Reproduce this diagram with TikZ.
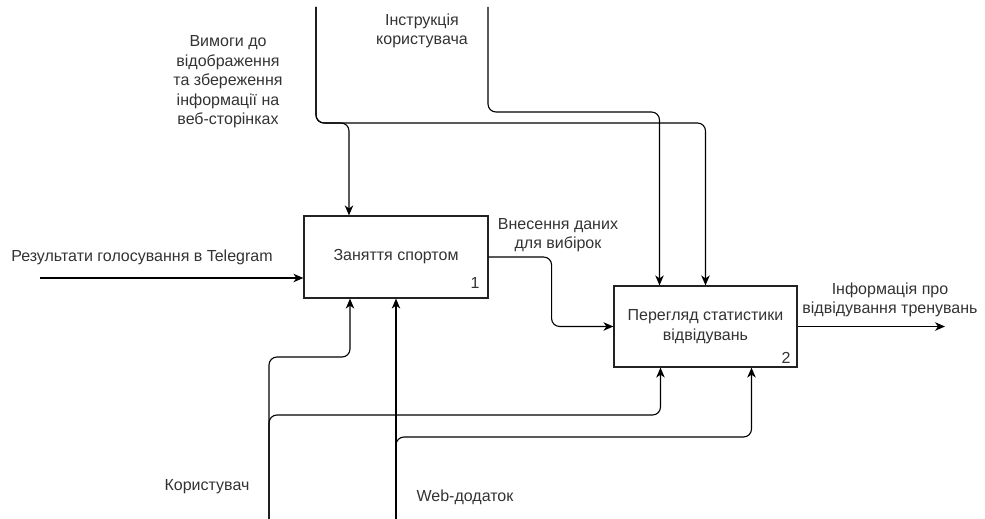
\documentclass[tikz,border=0pt]{standalone}
\usepackage{fontspec}
\setmainfont{Liberation Sans}
\usetikzlibrary{arrows.meta,calc}
\definecolor{txt}{HTML}{333333}
\definecolor{edge}{HTML}{222222}
\tikzset{
  func/.style={draw=edge, line width=1.2pt, fill=white, inner sep=0pt,
    text=txt, font=\fontsize{16}{20}\selectfont, align=center},
  lbl/.style={text=txt, font=\fontsize{16}{19.5}\selectfont, align=center, inner sep=0pt},
  num/.style={text=txt, font=\fontsize{16}{18}\selectfont, inner sep=0pt},
  flow/.style={draw=black, line width=1.1pt, rounded corners=8pt,
    -{Stealth[length=10pt,width=8.5pt,inset=3pt]}},
}
\begin{document}
\begin{tikzpicture}[x=1pt,y=-1pt]
\useasboundingbox (0,0) rectangle (985,519);

% activity boxes
\node[func, minimum width=184pt, minimum height=82pt] (b1) at (396,257) {Заняття спортом};
\node[num, anchor=south east] (n1) at ([xshift=-9pt,yshift=10pt]b1.south east) {1};
\node[func, minimum width=183pt, minimum height=81pt] (b2) at (705.5,326.5) {Перегляд статистики\\відвідувань};
\node[num, anchor=south east] (n2) at ([xshift=-7pt,yshift=4pt]b2.south east) {2};

% free ends of the boundary arrows
\coordinate (t1) at (316,7);
\coordinate (t2) at (488,7);
\coordinate (in1) at (40,278);
\coordinate (out) at (945,326.5);
\coordinate (u) at (269,519);
\coordinate (w) at (396,519);

% controls from above
\draw[flow] (t1) -- ++(0,116) -| (b2.north);
\draw[flow] (t1) -- ++(0,116) -| ([xshift=-47pt]b1.north);
\draw[flow] (t2) -- ++(0,105) -| ([xshift=-46pt]b2.north);

% input, internal flow and output
\draw[flow] (in1) -- (in1 -| b1.west);
\draw[flow] (b1.east) -- ++(63,0) |- (b2.west);
\draw[flow] (b2.east) -- (out);

% mechanisms from below
\draw[flow] (u) -- ++(0,-162) -| ([xshift=-46pt]b1.south);
\draw[flow] (u) -- ++(0,-104) -| ([xshift=-45pt]b2.south);
\draw[flow] (w) -- (b1.south);
\draw[flow] (w) -- ++(0,-82) -| ([xshift=46pt]b2.south);

% labels
\node[lbl] (lreq) at (228,82) {Вимоги до\\відображення\\та збереження\\інформації на\\веб-сторінках};
\node[lbl] (linstr) at (422,31) {Інструкція\\користувача};
\node[lbl] (lin) at (142,257) {Результати голосування в Telegram};
\node[lbl] (ldata) at (558,235) {Внесення даних\\для вибірок};
\node[lbl] (lout) at (890,300) {Інформація про\\відвідування тренувань};
\node[lbl] (luser) at (207,487) {Користувач};
\node[lbl] (lweb) at (465,497) {Web-додаток};
\end{tikzpicture}
\end{document}
